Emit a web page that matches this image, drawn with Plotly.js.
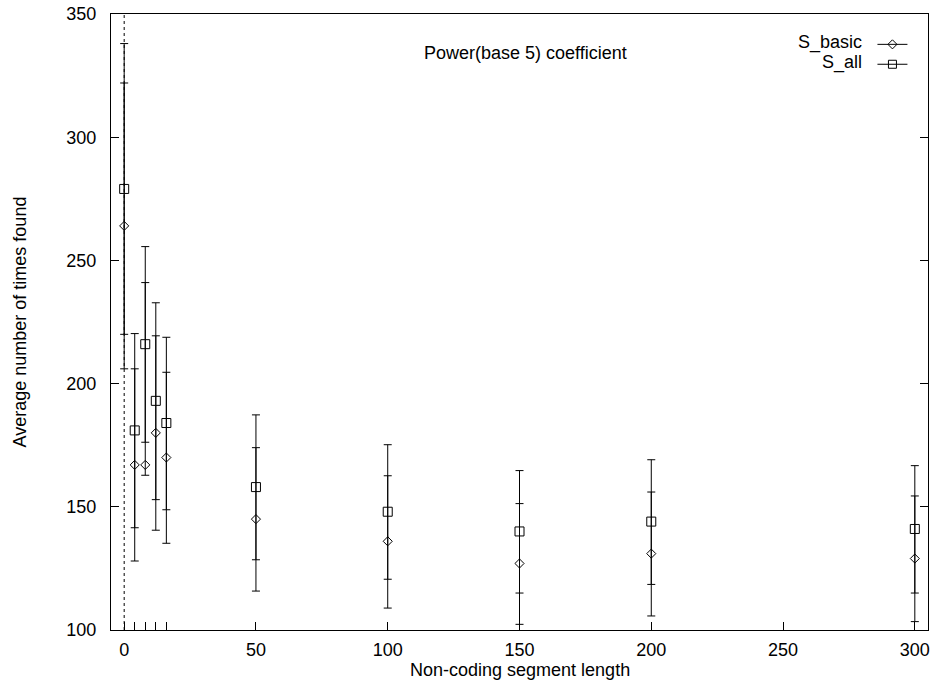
<!DOCTYPE html>
<html>
<head>
<meta charset="utf-8">
<script src="https://cdn.plot.ly/plotly-3.0.1.min.js"></script>
<style>html,body{margin:0;padding:0;background:#fff;}#chart{width:933px;height:685px;}</style>
</head>
<body>
<div id="chart"></div>
<script>
// ---- data ----
const segLength = [0, 4, 8, 12, 16, 50, 100, 150, 200, 300];

const basicMean = [264, 167, 167, 180, 170, 145, 136, 127, 131, 129];
const basicHigh = [322, 206, 241, 219.4, 204.6, 174, 162.6, 151.3, 156, 154.4];
const basicLow  = [206, 128, 162.8, 140.5, 135.2, 115.8, 108.9, 102.3, 105.7, 103.4];

const allMean = [279, 181, 216, 193, 184, 158, 148, 140, 144, 141];
const allHigh = [338, 220.3, 255.6, 232.8, 218.8, 187.3, 175.2, 164.7, 169.1, 166.7];
const allLow  = [220, 141.5, 176.2, 152.9, 148.8, 128.5, 120.6, 115, 118.5, 115];

const seriesNames = ['S_basic', 'S_all'];
const xTickVals = [0, 4, 8, 12, 16, 50, 100, 150, 200, 250, 300];
const xTickText = ['0', '', '', '', '', '50', '100', '150', '200', '250', '300'];
const xMajorTicks = [0, 50, 100, 150, 200, 250, 300];
const yTickVals = [100, 150, 200, 250, 300, 350];

const chartTitle = 'Power(base 5) coefficient';
const xTitle = 'Non-coding segment length';
const yTitle = 'Average number of times found';

// ---- build ----
const FONT = 'Liberation Sans, Arial, Helvetica, sans-serif';
const plus  = (hi, m) => hi.map((v, i) => v - m[i]);
const minus = (lo, m) => lo.map((v, i) => m[i] - v);

function series(name, mean, hi, lo, symbol, msize) {
  return {
    type: 'scatter', mode: 'markers', name: name, showlegend: false,
    x: segLength, y: mean,
    marker: {symbol: symbol, size: msize, color: 'black', line: {color: 'black', width: 1}},
    error_y: {type: 'data', symmetric: false, array: plus(hi, mean), arrayminus: minus(lo, mean),
              color: 'black', thickness: 1, width: 4},
    cliponaxis: true
  };
}
function keyEntry(symbol, msize) {
  return {
    type: 'scatter', mode: 'lines+markers', name: '', showlegend: true,
    x: [null], y: [null],
    line: {color: 'black', width: 1},
    marker: {symbol: symbol, size: msize, color: 'black', line: {color: 'black', width: 1}}
  };
}

const data = [
  series(seriesNames[0], basicMean, basicHigh, basicLow, 'diamond-open', 7),
  series(seriesNames[1], allMean, allHigh, allLow, 'square-open', 9),
  keyEntry('diamond-open', 7),
  keyEntry('square-open', 8)
];

const layout = {
  width: 933, height: 685,
  paper_bgcolor: 'white', plot_bgcolor: 'white',
  font: {family: FONT, size: 18, color: 'black'},
  margin: {l: 111, r: 5, t: 14, b: 55, pad: 0},
  showlegend: true,
  legend: {x: 0.932, xanchor: 'left', y: 0.975, yanchor: 'top',
           bgcolor: 'rgba(0,0,0,0)', borderwidth: 0, font: {size: 13},
           tracegroupgap: 0},
  xaxis: {
    range: [-5, 305], tickmode: 'array', tickvals: xTickVals, ticktext: xTickText,
    ticks: 'inside', ticklen: 8, tickwidth: 1, tickcolor: 'black',
    showline: true, linecolor: 'black', linewidth: 1, mirror: true,
    showgrid: false, zeroline: false, ticklabelstandoff: 3,
    tickfont: {size: 18},
    automargin: false
  },
  xaxis2: {
    overlaying: 'x', side: 'top', anchor: 'y', range: [-5, 305],
    tickmode: 'array', tickvals: xMajorTicks, showticklabels: false,
    ticks: 'inside', ticklen: 8, tickwidth: 1, tickcolor: 'black',
    showline: false, showgrid: false, zeroline: false
  },
  yaxis: {
    range: [100, 350], tickmode: 'array', tickvals: yTickVals,
    ticks: 'inside', ticklen: 8, tickwidth: 1, tickcolor: 'black',
    showline: true, linecolor: 'black', linewidth: 1, mirror: 'ticks',
    showgrid: false, zeroline: false, ticklabelstandoff: 10,
    tickfont: {size: 18},
    title: {text: yTitle, font: {size: 18}, standoff: 35},
    automargin: false
  },
  shapes: [{
    type: 'line', xref: 'x', yref: 'paper', x0: 0, x1: 0, y0: 0, y1: 1,
    line: {color: 'black', width: 1, dash: 'dot'}, layer: 'below'
  }],
  annotations: [
    {text: chartTitle, xref: 'paper', yref: 'paper', x: 0.5077, y: 0.936,
     xanchor: 'center', yanchor: 'middle', showarrow: false, font: {size: 18}},
    {text: xTitle, xref: 'paper', yref: 'paper', x: 0.5, y: -0.0655,
     xanchor: 'center', yanchor: 'middle', showarrow: false, font: {size: 18}},
    {text: seriesNames[0], xref: 'paper', yref: 'paper', x: 0.9217, y: 0.9545,
     xanchor: 'right', yanchor: 'middle', showarrow: false, font: {size: 18}},
    {text: seriesNames[1], xref: 'paper', yref: 'paper', x: 0.9217, y: 0.922,
     xanchor: 'right', yanchor: 'middle', showarrow: false, font: {size: 18}}
  ]
};

Plotly.newPlot('chart', data, layout, {displayModeBar: false, staticPlot: true});
</script>
</body>
</html>
